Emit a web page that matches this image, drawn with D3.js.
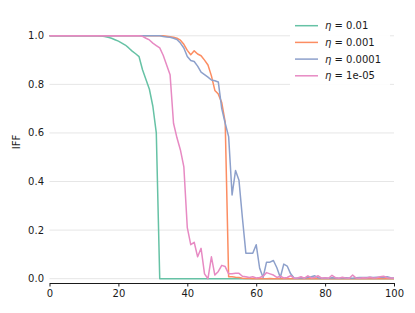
<!DOCTYPE html>
<html lang="en">
<head>
<meta charset="utf-8">
<title>IFF vs step</title>
<script src="https://d3js.org/d3.v7.min.js"></script>
<style>
  body { margin: 0; background: #fff; }
  svg { display: block; font-family: "DejaVu Sans", sans-serif; }
</style>
</head>
<body>
<div id="chart"></div>
<script>
// series labels and colours (seaborn Set2)
var etaLabels = ["0.01", "0.001", "0.0001", "1e-05"];
var colors = ["#66c2a5", "#fc8d62", "#8da0cb", "#e78ac3"];

var xTicks = [0, 20, 40, 60, 80, 100];
var yTicks = [0.0, 0.2, 0.4, 0.6, 0.8, 1.0];

// IFF per step (steps 0..100)
var iff001 = [
  1,1,1,1,1,1,1,1,1,1,
  1,1,1,1,1,0.999,0.997,0.994,0.99,0.984,
  0.978,0.97,0.962,0.95,0.937,0.926,0.914,0.86,0.82,0.78,
  0.71,0.6,0,0,0,0,0,0,0,0,
  0,0,0,0,0,0,0,0,0,0,
  0,0,0,0,0,0,0,0,0,0,
  0,0,0,0,0,0,0,0,0,0,
  0,0,0,0,0,0,0,0,0,0,
  0,0,0,0,0,0,0,0,0,0,
  0,0,0,0,0,0,0,0,0,0,
  0
];
var iff0001 = [
  1,1,1,1,1,1,1,1,1,1,
  1,1,1,1,1,1,1,1,1,1,
  1,1,1,1,1,1,1,1,1,1,
  1,1,1,1,0.998,0.996,0.994,0.99,0.982,0.965,
  0.94,0.922,0.938,0.925,0.918,0.9,0.88,0.835,0.775,0.76,
  0.725,0.645,0.008,0.008,0.006,0.005,0.002,0.001,0.001,0,
  0,0.001,0,0,0.001,0,0,0,0.001,0,
  0,0,0.001,0,0,0,0,0.001,0,0,
  0,0,0,0.001,0,0,0,0,0,0.001,
  0,0,0,0,0,0,0.001,0,0,0,
  0
];
var iff00001 = [
  1,1,1,1,1,1,1,1,1,1,
  1,1,1,1,1,1,1,1,1,1,
  1,1,1,1,1,1,1,1,1,1,
  1,1,1,0.997,0.995,0.994,0.99,0.985,0.97,0.95,
  0.915,0.898,0.894,0.875,0.85,0.84,0.83,0.818,0.815,0.81,
  0.7,0.64,0.585,0.345,0.445,0.405,0.25,0.105,0.105,0.105,
  0.14,0.043,0.005,0.068,0.068,0.075,0.045,0.005,0.06,0.052,
  0.02,0.003,0.002,0.004,0.003,0.005,0.008,0.012,0.004,0.002,
  0.003,0.002,0.004,0.003,0.002,0.003,0.004,0.003,0.002,0.004,
  0.005,0.005,0.005,0.006,0.005,0.006,0.006,0.005,0.008,0.004,
  0.003
];
var iff000001 = [
  1,1,1,1,1,1,1,1,1,1,
  1,1,1,1,1,1,1,1,1,1,
  1,1,1,1,1,1,1,0.998,0.99,0.983,
  0.97,0.96,0.95,0.92,0.88,0.84,0.64,0.58,0.53,0.46,
  0.21,0.14,0.15,0.09,0.125,0.02,0,0.09,0.015,0.03,
  0.055,0.05,0.02,0.02,0.022,0.022,0.01,0.008,0.005,0.008,
  0.003,0.005,0.01,0.025,0.02,0.015,0.005,0.01,0.003,0.005,
  0.012,0.002,0.003,0.008,0.002,0.012,0.003,0.005,0.012,0.002,
  0.004,0.002,0.014,0.004,0.002,0.006,0.003,0.002,0.015,0.003,
  0.002,0.004,0.003,0.006,0.003,0.004,0.008,0.01,0.004,0.003,
  0.002
];

var seriesList = [iff001, iff0001, iff00001, iff000001];

var width = 415, height = 313;

var svg = d3.select("#chart").append("svg")
  .attr("width", width)
  .attr("height", height);

var x = d3.scaleLinear().domain([0, 100]).range([49.5, 394]);
var y = d3.scaleLinear().domain([0, 1]).range([278.7, 35.8]);

// horizontal gridlines
svg.append("g")
  .selectAll("line")
  .data(yTicks)
  .enter()
  .append("line")
    .attr("x1", x(0))
    .attr("x2", x(100))
    .attr("y1", function(d) { return y(d); })
    .attr("y2", function(d) { return y(d); })
    .attr("stroke", "#e6e6e6")
    .attr("stroke-width", 1);

// y tick labels (no spine)
svg.append("g")
  .selectAll("text")
  .data(yTicks)
  .enter()
  .append("text")
    .attr("x", 44)
    .attr("y", function(d) { return y(d); })
    .attr("dy", "0.35em")
    .attr("text-anchor", "end")
    .attr("font-size", 10)
    .attr("fill", "#1a1a1a")
    .text(function(d) { return d.toFixed(1); });

// x axis
var xAxis = svg.append("g")
  .attr("transform", "translate(0,283)")
  .call(d3.axisBottom(x).tickValues(xTicks).tickSize(3.5).tickPadding(3).tickSizeOuter(0));
xAxis.select(".domain").attr("stroke", "#1a1a1a").attr("stroke-width", 1.1);
xAxis.selectAll(".tick line").attr("stroke", "#1a1a1a");
xAxis.selectAll(".tick text").attr("font-size", 10).attr("fill", "#1a1a1a")
  .attr("font-family", "DejaVu Sans, sans-serif");

// y label
svg.append("text")
  .attr("transform", "translate(20,142)rotate(-90)")
  .attr("text-anchor", "middle")
  .attr("font-size", 10)
  .attr("fill", "#1a1a1a")
  .text("IFF");

// lines
var line = d3.line()
  .x(function(d, i) { return x(i); })
  .y(function(d) { return y(d); });

seriesList.forEach(function(s, k) {
  svg.append("path")
    .datum(s)
    .attr("d", line)
    .attr("fill", "none")
    .attr("stroke", colors[k])
    .attr("stroke-width", 1.5)
    .attr("stroke-linejoin", "round");
});

// legend
var legend = svg.append("g");
legend.append("rect")
  .attr("x", 290).attr("y", 15)
  .attr("width", 100).attr("height", 70)
  .attr("fill", "#fff")
  .attr("fill-opacity", 0.9);

etaLabels.forEach(function(lab, k) {
  var ly = 25.7 + k * 16.7;
  legend.append("line")
    .attr("x1", 295).attr("x2", 318)
    .attr("y1", ly).attr("y2", ly)
    .attr("stroke", colors[k])
    .attr("stroke-width", 1.5);
  var t = legend.append("text")
    .attr("x", 325).attr("y", ly)
    .attr("dy", "0.35em")
    .attr("font-size", 10)
    .attr("fill", "#1a1a1a");
  t.append("tspan").attr("font-style", "italic").text("η");
  t.append("tspan").text(" = " + lab);
});
</script>
</body>
</html>
